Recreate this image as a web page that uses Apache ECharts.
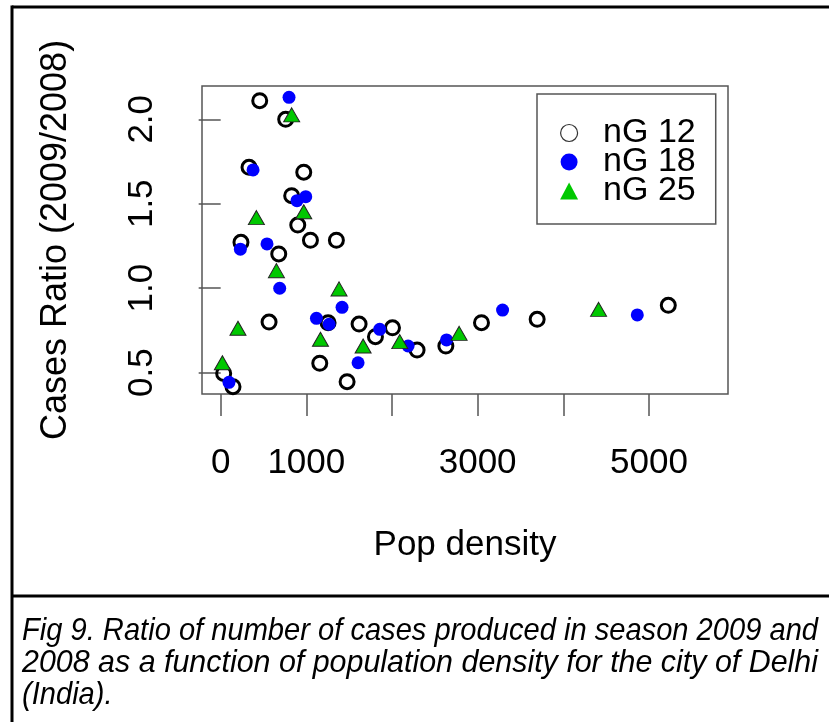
<!DOCTYPE html>
<html>
<head>
<meta charset="utf-8">
<script src="https://cdn.jsdelivr.net/npm/echarts@6/dist/echarts.min.js"></script>
<style>
html,body{margin:0;padding:0;background:#fff;}
#chart{width:829px;height:722px;}
</style>
</head>
<body>
<div id="chart"></div>
<script>
// ---- data ----
const popDensity12 = [456, 759, 331, 970, 829, 900, 237, 1048, 1351, 678, 565, 35, 144, 1157, 1254, 1616, 1807, 2006, 1476, 2293, 2629, 3045, 3695, 5226];
const ratio12      = [2.11, 2.00, 1.716, 1.687, 1.548, 1.374, 1.272, 1.284, 1.284, 1.203, 0.80, 0.496, 0.417, 0.556, 0.796, 0.788, 0.713, 0.766, 0.447, 0.634, 0.658, 0.796, 0.816, 0.899];
const popDensity18 = [798, 378, 891, 993, 230, 541, 689, 97, 1118, 1266, 1417, 1857, 1604, 2188, 2637, 3291, 4864];
const ratio18      = [2.13, 1.70, 1.518, 1.542, 1.231, 1.262, 1.00, 0.443, 0.822, 0.787, 0.887, 0.757, 0.559, 0.658, 0.694, 0.871, 0.842];
const popDensity25 = [829, 417, 970, 651, 1382, 202, 20, 1165, 1663, 2091, 2784, 4412];
const ratio25      = [2.026, 1.418, 1.453, 1.104, 0.996, 0.763, 0.559, 0.698, 0.658, 0.684, 0.733, 0.875];
const seriesNames  = ['nG 12', 'nG 18', 'nG 25'];
const xTicks       = [0, 1000, 2000, 3000, 4000, 5000];
const xTickLabels  = [0, 1000, 3000, 5000];
const yTicks       = [0.5, 1.0, 1.5, 2.0];
const captionLines = [
  'Fig 9. Ratio of number of cases produced in season 2009 and',
  '2008 as a function of population density for the city of Delhi',
  '(India).'
];

const pairs = (xs, ys) => xs.map((x, i) => [x, ys[i]]);
const FONT = '"Liberation Sans", Arial, Helvetica, sans-serif';
const GREEN = '#00C800';

// caption measuring for justified lines
const capFont = 'italic 32px "Liberation Sans"';
const ctx = document.createElement('canvas').getContext('2d');
ctx.font = capFont;
const targetW = 818 - 22;
const s1 = targetW / ctx.measureText(captionLines[0]).width;
const s2 = targetW / ctx.measureText(captionLines[1]).width;
const capScales = [s1, s2, s1];
const capY = [631, 663, 695];

const chart = echarts.init(document.getElementById('chart'), null, {renderer: 'canvas'});
chart.setOption({
  animation: false,
  backgroundColor: '#fff',
  textStyle: {fontFamily: FONT},
  grid: {
    left: 202, top: 86, width: 526, height: 308,
    containLabel: false, outerBoundsMode: 'none',
    show: true, borderColor: '#555', borderWidth: 1.5, backgroundColor: 'transparent'
  },
  xAxis: {
    type: 'value', min: -218, max: 5923,
    splitLine: {show: false},
    axisLine: {show: false},
    axisTick: {show: true, length: 22, customValues: xTicks, lineStyle: {color: '#555', width: 1.5}},
    axisLabel: {customValues: xTickLabels, fontSize: 35, color: '#000', margin: 52, fontFamily: FONT,
                formatter: v => String(v)},
    name: 'Pop density', nameLocation: 'middle', nameGap: 134,
    nameTextStyle: {fontSize: 35, color: '#000', fontFamily: FONT}
  },
  yAxis: {
    type: 'value', min: 0.374, max: 2.197,
    splitLine: {show: false},
    axisLine: {show: false},
    axisTick: {show: true, length: 22, customValues: yTicks, lineStyle: {color: '#555', width: 1.5}},
    axisLabel: {customValues: yTicks, rotate: 90, fontSize: 35, color: '#000', margin: 42, fontFamily: FONT,
                formatter: v => Number(v).toFixed(1)},
    name: 'Cases Ratio (2009/2008)', nameLocation: 'middle', nameRotate: 90, nameGap: 128,
    nameTextStyle: {fontSize: 36, color: '#000', fontFamily: FONT}
  },
  legend: {
    orient: 'vertical', left: 537, top: 94,
    padding: [22, 20, 16, 23],
    itemWidth: 18, itemHeight: 17, itemGap: -5,
    borderColor: '#555', borderWidth: 1.5, borderRadius: 0,
    backgroundColor: '#fff',
    textStyle: {fontSize: 34, lineHeight: 29, color: '#000', fontFamily: FONT, padding: [0, 0, 0, 20]},
    selectedMode: false,
    data: [
      {name: seriesNames[0], icon: 'circle', itemStyle: {color: '#fff', borderColor: '#333', borderWidth: 1.2}},
      {name: seriesNames[1], icon: 'circle', itemStyle: {color: '#0000FF', borderWidth: 0}},
      {name: seriesNames[2], icon: 'triangle', itemStyle: {color: GREEN, borderWidth: 0}}
    ]
  },
  series: [
    {
      name: seriesNames[0], type: 'scatter', symbol: 'circle', symbolSize: 14,
      itemStyle: {color: 'rgba(255,255,255,0)', borderColor: '#000', borderWidth: 3, opacity: 1},
      data: pairs(popDensity12, ratio12)
    },
    {
      name: seriesNames[1], type: 'scatter', symbol: 'circle', symbolSize: 13,
      itemStyle: {color: '#0000FF', opacity: 1},
      data: pairs(popDensity18, ratio18)
    },
    {
      name: seriesNames[2], type: 'scatter', symbol: 'triangle', symbolSize: [16, 14],
      itemStyle: {color: GREEN, borderColor: '#222', borderWidth: 1, opacity: 1},
      data: pairs(popDensity25, ratio25)
    }
  ],
  graphic: [
    {type: 'line', shape: {x1: 12, y1: 7, x2: 832, y2: 7}, style: {stroke: '#000', lineWidth: 3}, silent: true},
    {type: 'line', shape: {x1: 12, y1: 5.5, x2: 12, y2: 730}, style: {stroke: '#000', lineWidth: 3}, silent: true},
    {type: 'line', shape: {x1: 12, y1: 596, x2: 832, y2: 596}, style: {stroke: '#000', lineWidth: 3}, silent: true}
  ].concat(captionLines.map((t, i) => ({
    type: 'text', x: 22, y: capY[i], scaleX: capScales[i], scaleY: 1, silent: true,
    style: {text: t, x: 0, y: 0, font: capFont, fill: '#000', verticalAlign: 'middle', align: 'left'}
  })))
});
</script>
</body>
</html>
